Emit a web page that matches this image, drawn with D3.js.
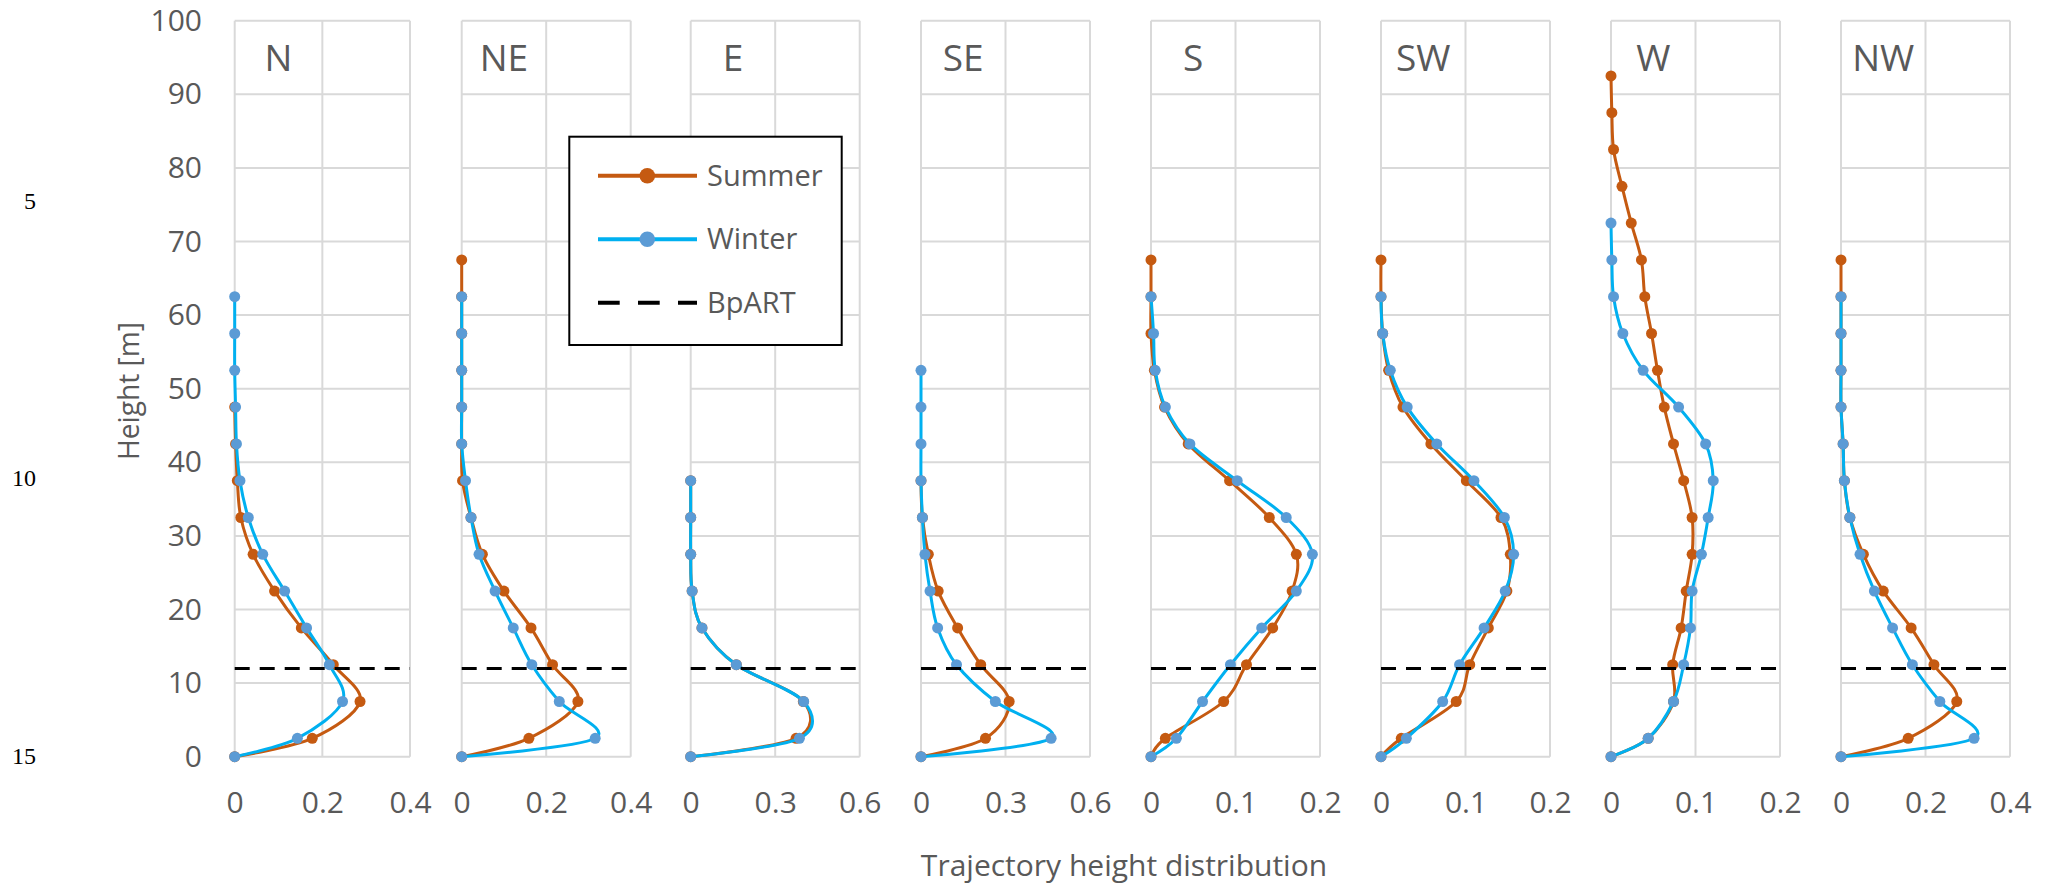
<!DOCTYPE html>
<html>
<head>
  <meta charset="UTF-8">
  <title>Trajectory height distribution</title>
  <script src="https://cdnjs.cloudflare.com/ajax/libs/d3/7.8.5/d3.min.js"></script>
  <style type="text/css">
    body { margin: 0; background: #fff; }
    svg { display: block; }
    text { font-family: "Open Sans", sans-serif; }
    text.ln { font-family: "Liberation Serif", "Times New Roman", serif; }
  </style>
</head>
<body>
<script type="text/javascript">

// height bins (m), bin middles
var heights = [0, 2.5, 7.5, 12.5, 17.5, 22.5, 27.5, 32.5, 37.5, 42.5, 47.5, 52.5, 57.5, 62.5, 67.5, 72.5, 77.5, 82.5, 87.5, 92.5];
var directions = ["N", "NE", "E", "SE", "S", "SW", "W", "NW"];
var yTicks = [0, 10, 20, 30, 40, 50, 60, 70, 80, 90, 100];
var xTicks = [[0, 0.2, 0.4], [0, 0.2, 0.4], [0, 0.3, 0.6], [0, 0.3, 0.6], [0, 0.1, 0.2], [0, 0.1, 0.2], [0, 0.1, 0.2], [0, 0.2, 0.4]];
var bpartHeight = 12;
var lineNumbers = ["5", "10", "15"];
var lineNumberRows = [75.5, 37.9, 0.2]; // in chart height units

// summer / winter distributions, one value per height bin from 0 up
var summerN  = [0, 0.177, 0.286, 0.225, 0.152, 0.091, 0.042, 0.014, 0.006, 0.002, 0];
var winterN  = [0, 0.143, 0.246, 0.216, 0.164, 0.114, 0.064, 0.031, 0.012, 0.004, 0.002, 0, 0, 0];
var summerNE = [0, 0.159, 0.275, 0.215, 0.164, 0.100, 0.049, 0.022, 0.002, 0, 0, 0, 0, 0, 0];
var winterNE = [0, 0.316, 0.231, 0.166, 0.122, 0.079, 0.041, 0.022, 0.009, 0, 0, 0, 0, 0];
var summerE  = [0, 0.374, 0.400, 0.162, 0.040, 0.005, 0, 0, 0];
var winterE  = [0, 0.386, 0.401, 0.162, 0.040, 0.005, 0, 0, 0];
var summerSE = [0, 0.229, 0.313, 0.212, 0.130, 0.061, 0.026, 0.005, 0];
var winterSE = [0, 0.462, 0.264, 0.126, 0.059, 0.032, 0.014, 0.005, 0, 0, 0, 0];
var summerS  = [0, 0.017, 0.086, 0.113, 0.144, 0.167, 0.172, 0.140, 0.093, 0.044, 0.016, 0.004, 0, 0, 0];
var winterS  = [0, 0.030, 0.061, 0.094, 0.131, 0.172, 0.191, 0.160, 0.102, 0.046, 0.017, 0.005, 0.003, 0];
var summerSW = [0, 0.024, 0.089, 0.105, 0.127, 0.149, 0.153, 0.142, 0.101, 0.059, 0.026, 0.009, 0.002, 0, 0];
var winterSW = [0, 0.030, 0.073, 0.093, 0.122, 0.147, 0.157, 0.146, 0.110, 0.066, 0.031, 0.011, 0.002, 0];
var summerW  = [0, 0.044, 0.074, 0.073, 0.083, 0.089, 0.096, 0.096, 0.086, 0.074, 0.063, 0.055, 0.048, 0.040, 0.036, 0.024, 0.013, 0.003, 0.001, 0];
var winterW  = [0, 0.044, 0.074, 0.086, 0.094, 0.096, 0.107, 0.115, 0.121, 0.112, 0.080, 0.038, 0.014, 0.003, 0.001, 0];
var summerNW = [0, 0.159, 0.274, 0.220, 0.166, 0.100, 0.053, 0.021, 0.008, 0.005, 0, 0, 0, 0, 0];
var winterNW = [0, 0.315, 0.234, 0.169, 0.122, 0.079, 0.045, 0.021, 0.008, 0.005, 0, 0, 0, 0];

var summer = [summerN, summerNE, summerE, summerSE, summerS, summerSW, summerW, summerNW];
var winter = [winterN, winterNE, winterE, winterSE, winterS, winterSW, winterW, winterNW];

// layout
var panelLeft  = [234.7, 461.7, 690.7, 921, 1151, 1381, 1611, 1841];
var panelWidth = [175.3, 169, 169, 169, 169, 169, 169, 169];
var plotTop = 20.7, plotBottom = 756.7;

var summerColor = "#C55A11", winterLine = "#00B0F0", winterDot = "#5B9BD5";
var gridColor = "#D9D9D9", textColor = "#595959";

var svg = d3.select("body").append("svg")
    .attr("width", 2055)
    .attr("height", 888);

var y = d3.scaleLinear().domain([0, 100]).range([plotBottom, plotTop]);

function toPoints(vals) {
  return vals.map(function (v, i) { return {h: heights[i], v: v}; });
}

// Y axis labels (left of first panel)
var yAxis = d3.axisLeft(y).tickValues(yTicks).tickSize(0).tickPadding(32.7);
svg.append("g")
    .attr("transform", "translate(" + panelLeft[0] + ",0)")
    .call(yAxis)
    .call(function (g) { g.select(".domain").remove(); })
    .call(function (g) {
      g.selectAll("text")
        .attr("font-size", 30)
        .attr("fill", textColor);
    });

directions.forEach(function (dir, i) {
  var ticks = xTicks[i];
  var x = d3.scaleLinear()
      .domain([0, ticks[ticks.length - 1]])
      .range([panelLeft[i], panelLeft[i] + panelWidth[i]]);

  var g = svg.append("g").attr("class", "panel");

  // grid
  g.selectAll("line.h").data(yTicks).enter().append("line")
      .attr("x1", x.range()[0]).attr("x2", x.range()[1])
      .attr("y1", function (d) { return y(d); })
      .attr("y2", function (d) { return y(d); })
      .attr("stroke", gridColor).attr("stroke-width", 2);
  g.selectAll("line.v").data(ticks).enter().append("line")
      .attr("x1", function (d) { return x(d); })
      .attr("x2", function (d) { return x(d); })
      .attr("y1", y(0)).attr("y2", y(100))
      .attr("stroke", gridColor).attr("stroke-width", 2);

  // x tick labels
  g.append("g")
      .attr("transform", "translate(0," + plotBottom + ")")
      .call(d3.axisBottom(x).tickValues(ticks).tickSize(0).tickPadding(35).tickFormat(d3.format("~g")))
      .call(function (a) { a.select(".domain").remove(); })
      .call(function (a) {
        a.selectAll("text")
          .attr("font-size", 30)
          .attr("fill", textColor);
      });

  // direction label
  g.append("text")
      .attr("x", x(ticks[1] / 2))
      .attr("y", 71)
      .attr("text-anchor", "middle")
      .attr("font-size", 37)
      .attr("fill", textColor)
      .text(dir);

  var line = d3.line()
      .x(function (d) { return x(d.v); })
      .y(function (d) { return y(d.h); })
      .curve(d3.curveCardinal.tension(0));

  var series = [
    {vals: summer[i], stroke: summerColor, dot: summerColor},
    {vals: winter[i], stroke: winterLine, dot: winterDot}
  ];

  series.forEach(function (s) {
    var pts = toPoints(s.vals);
    g.append("path")
        .attr("d", line(pts))
        .attr("fill", "none")
        .attr("stroke", s.stroke)
        .attr("stroke-width", 3);
    g.selectAll(null).data(pts).enter().append("circle")
        .attr("cx", function (d) { return x(d.v); })
        .attr("cy", function (d) { return y(d.h); })
        .attr("r", 5.5)
        .attr("fill", s.dot);
  });

  // BpART height
  g.append("line")
      .attr("x1", x(0)).attr("x2", x(ticks[ticks.length - 1]))
      .attr("y1", y(bpartHeight)).attr("y2", y(bpartHeight))
      .attr("stroke", "#000")
      .attr("stroke-width", 3)
      .attr("stroke-dasharray", "15,10");
});

// axis titles
svg.append("text")
    .attr("transform", "translate(139,391) rotate(-90)")
    .attr("text-anchor", "middle")
    .attr("font-size", 30)
    .attr("textLength", 138)
    .attr("lengthAdjust", "spacingAndGlyphs")
    .attr("fill", textColor)
    .text("Height [m]");

svg.append("text")
    .attr("x", 1124)
    .attr("y", 876)
    .attr("text-anchor", "middle")
    .attr("font-size", 30)
    .attr("fill", textColor)
    .text("Trajectory height distribution");

// manuscript line numbers on the left margin
svg.selectAll("text.ln").data(lineNumbers).enter().append("text")
    .attr("class", "ln")
    .attr("x", 36)
    .attr("y", function (d, i) { return y(lineNumberRows[i]); })
    .attr("dy", "0.35em")
    .attr("text-anchor", "end")
    .attr("font-size", 24)
    .attr("fill", "#000")
    .text(function (d) { return d; });

// legend
var legendNames = ["Summer", "Winter", "BpART"];
var lg = svg.append("g");
lg.append("rect")
    .attr("x", 569.3).attr("y", 136.7)
    .attr("width", 272.4).attr("height", 208.3)
    .attr("fill", "#fff")
    .attr("stroke", "#000")
    .attr("stroke-width", 2);

var legendY = [175.7, 239.3, 302.7];
legendNames.forEach(function (name, k) {
  var ly = legendY[k];
  var l = lg.append("line")
      .attr("x1", 598).attr("x2", 697)
      .attr("y1", ly).attr("y2", ly)
      .attr("stroke-width", 4);
  if (k === 0) l.attr("stroke", summerColor);
  if (k === 1) l.attr("stroke", winterLine);
  if (k === 2) l.attr("stroke", "#000").attr("stroke-dasharray", "21.7,18.3");
  if (k < 2) {
    lg.append("circle")
        .attr("cx", 647.3).attr("cy", ly)
        .attr("r", 7.8)
        .attr("fill", k === 0 ? summerColor : winterDot);
  }
  lg.append("text")
      .attr("x", 707)
      .attr("y", ly)
      .attr("dy", "0.35em")
      .attr("font-size", 29)
      .attr("fill", textColor)
      .text(name);
});

</script>
</body>
</html>
